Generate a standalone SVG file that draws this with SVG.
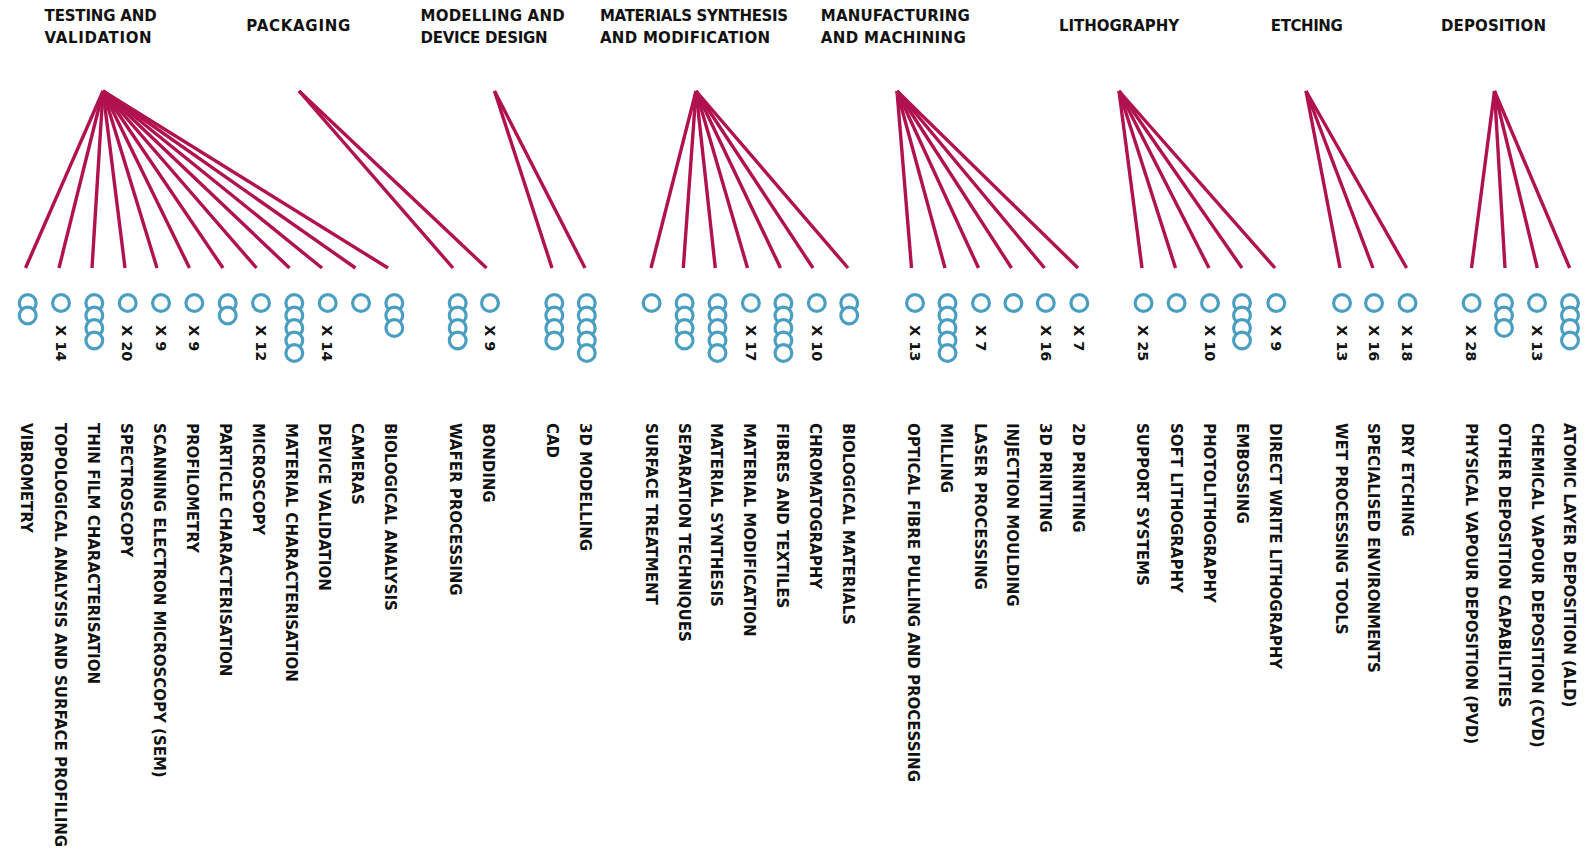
<svg xmlns="http://www.w3.org/2000/svg" width="1589" height="854" viewBox="0 0 1589 854">
<style>
.bg{fill:#ffffff}
.ttl{font-family:"DejaVu Sans","Liberation Sans",sans-serif;font-weight:bold;font-size:15px;fill:#111}
.lbl{font-family:"DejaVu Sans","Liberation Sans",sans-serif;font-weight:bold;font-size:15px;fill:#111}
.cnt{font-family:"DejaVu Sans","Liberation Sans",sans-serif;font-weight:bold;font-size:14.5px;fill:#111}
.c{fill:#ffffff;stroke:#4a9fc0;stroke-width:3.2}
.ln{stroke:#b0124f;stroke-width:3.4;fill:none}
</style>
<defs>
<circle id="r" class="c" cx="0" cy="0" r="8.4"/>
</defs>
<rect class="bg" x="0" y="0" width="1589" height="854"/>

<g id="titles">
<g id="t-testing"><text class="ttl" x="44.6" y="21" textLength="112" lengthAdjust="spacing">TESTING AND</text><text class="ttl" x="44.6" y="42.5" textLength="107" lengthAdjust="spacing">VALIDATION</text></g>
<g id="t-packaging"><text class="ttl" x="246.3" y="31" textLength="104" lengthAdjust="spacing">PACKAGING</text></g>
<g id="t-modelling"><text class="ttl" x="420.6" y="21" textLength="144" lengthAdjust="spacing">MODELLING AND</text><text class="ttl" x="420.6" y="42.5" textLength="127" lengthAdjust="spacing">DEVICE DESIGN</text></g>
<g id="t-materials"><text class="ttl" x="600" y="21" textLength="188" lengthAdjust="spacing">MATERIALS SYNTHESIS</text><text class="ttl" x="600" y="42.5" textLength="170" lengthAdjust="spacing">AND MODIFICATION</text></g>
<g id="t-manufacturing"><text class="ttl" x="820.8" y="21" textLength="149" lengthAdjust="spacing">MANUFACTURING</text><text class="ttl" x="820.8" y="42.5" textLength="145" lengthAdjust="spacing">AND MACHINING</text></g>
<g id="t-lithography"><text class="ttl" x="1059" y="31" textLength="120" lengthAdjust="spacing">LITHOGRAPHY</text></g>
<g id="t-etching"><text class="ttl" x="1270.8" y="31" textLength="72" lengthAdjust="spacing">ETCHING</text></g>
<g id="t-deposition"><text class="ttl" x="1441" y="31" textLength="105" lengthAdjust="spacing">DEPOSITION</text></g>
</g>

<g id="connectors">
<!-- Testing and validation -->
<line class="ln" x1="103" y1="91" x2="25.5" y2="268"/>
<line class="ln" x1="103" y1="91" x2="59" y2="268"/>
<line class="ln" x1="103" y1="91" x2="92" y2="268"/>
<line class="ln" x1="103" y1="91" x2="125" y2="268"/>
<line class="ln" x1="103" y1="91" x2="157" y2="268"/>
<line class="ln" x1="103" y1="91" x2="189.5" y2="268"/>
<line class="ln" x1="103" y1="91" x2="223" y2="268"/>
<line class="ln" x1="103" y1="91" x2="256.5" y2="268"/>
<line class="ln" x1="103" y1="91" x2="289.5" y2="268"/>
<line class="ln" x1="103" y1="91" x2="322" y2="268"/>
<line class="ln" x1="103" y1="91" x2="355.5" y2="268"/>
<line class="ln" x1="103" y1="91" x2="388" y2="268"/>
<!-- Packaging -->
<line class="ln" x1="299" y1="91" x2="453" y2="268"/>
<line class="ln" x1="299" y1="91" x2="486.5" y2="268"/>
<!-- Modelling -->
<line class="ln" x1="494.5" y1="91" x2="552" y2="268"/>
<line class="ln" x1="494.5" y1="91" x2="585" y2="268"/>
<!-- Materials -->
<line class="ln" x1="696" y1="91" x2="651" y2="268"/>
<line class="ln" x1="696" y1="91" x2="683.3" y2="268"/>
<line class="ln" x1="696" y1="91" x2="715.3" y2="268"/>
<line class="ln" x1="696" y1="91" x2="747.5" y2="268"/>
<line class="ln" x1="696" y1="91" x2="780.5" y2="268"/>
<line class="ln" x1="696" y1="91" x2="813" y2="268"/>
<line class="ln" x1="696" y1="91" x2="848" y2="268"/>
<!-- Manufacturing -->
<line class="ln" x1="897" y1="91" x2="911.5" y2="268"/>
<line class="ln" x1="897" y1="91" x2="945" y2="268"/>
<line class="ln" x1="897" y1="91" x2="978.5" y2="268"/>
<line class="ln" x1="897" y1="91" x2="1011.5" y2="268"/>
<line class="ln" x1="897" y1="91" x2="1044.5" y2="268"/>
<line class="ln" x1="897" y1="91" x2="1078" y2="268"/>
<!-- Lithography -->
<line class="ln" x1="1119" y1="91" x2="1142" y2="268"/>
<line class="ln" x1="1119" y1="91" x2="1175.5" y2="268"/>
<line class="ln" x1="1119" y1="91" x2="1209" y2="268"/>
<line class="ln" x1="1119" y1="91" x2="1242" y2="268"/>
<line class="ln" x1="1119" y1="91" x2="1275" y2="268"/>
<!-- Etching -->
<line class="ln" x1="1306" y1="91" x2="1340" y2="268"/>
<line class="ln" x1="1306" y1="91" x2="1373" y2="268"/>
<line class="ln" x1="1306" y1="91" x2="1406.6" y2="268"/>
<!-- Deposition -->
<line class="ln" x1="1494.5" y1="91" x2="1471.5" y2="268"/>
<line class="ln" x1="1494.5" y1="91" x2="1505" y2="268"/>
<line class="ln" x1="1494.5" y1="91" x2="1537.3" y2="268"/>
<line class="ln" x1="1494.5" y1="91" x2="1569.7" y2="268"/>
</g>

<g id="nodes">
<g id="n-vibrometry"><use href="#r" x="27.7" y="303"/><use href="#r" x="27.7" y="315.5"/><text class="lbl" transform="translate(26.5,423) rotate(90)" y="5.4">VIBROMETRY</text></g>
<g id="n-topological"><use href="#r" x="61" y="303"/><text class="cnt" transform="translate(61,325) rotate(90)" y="5.2">X 14</text><text class="lbl" transform="translate(60,423) rotate(90)" y="5.4">TOPOLOGICAL ANALYSIS AND SURFACE PROFILING</text></g>
<g id="n-thinfilm"><use href="#r" x="94.3" y="303"/><use href="#r" x="94.3" y="315.5"/><use href="#r" x="94.3" y="328"/><use href="#r" x="94.3" y="340.5"/><text class="lbl" transform="translate(93,423) rotate(90)" y="5.4">THIN FILM CHARACTERISATION</text></g>
<g id="n-spectroscopy"><use href="#r" x="127.7" y="303"/><text class="cnt" transform="translate(127.7,325) rotate(90)" y="5.2">X 20</text><text class="lbl" transform="translate(126,423) rotate(90)" y="5.4">SPECTROSCOPY</text></g>
<g id="n-sem"><use href="#r" x="161" y="303"/><text class="cnt" transform="translate(161,325) rotate(90)" y="5.2">X 9</text><text class="lbl" transform="translate(159,423) rotate(90)" y="5.4">SCANNING ELECTRON MICROSCOPY (SEM)</text></g>
<g id="n-profilometry"><use href="#r" x="194.3" y="303"/><text class="cnt" transform="translate(194.3,325) rotate(90)" y="5.2">X 9</text><text class="lbl" transform="translate(192,423) rotate(90)" y="5.4">PROFILOMETRY</text></g>
<g id="n-particle"><use href="#r" x="227.7" y="303"/><use href="#r" x="227.7" y="315.5"/><text class="lbl" transform="translate(225.5,423) rotate(90)" y="5.4">PARTICLE CHARACTERISATION</text></g>
<g id="n-microscopy"><use href="#r" x="261" y="303"/><text class="cnt" transform="translate(261,325) rotate(90)" y="5.2">X 12</text><text class="lbl" transform="translate(258.5,423) rotate(90)" y="5.4">MICROSCOPY</text></g>
<g id="n-materialchar"><use href="#r" x="294.3" y="303"/><use href="#r" x="294.3" y="315.5"/><use href="#r" x="294.3" y="328"/><use href="#r" x="294.3" y="340.5"/><use href="#r" x="294.3" y="353"/><text class="lbl" transform="translate(291.5,423) rotate(90)" y="5.4">MATERIAL CHARACTERISATION</text></g>
<g id="n-devicevalidation"><use href="#r" x="327.7" y="303"/><text class="cnt" transform="translate(327.7,325) rotate(90)" y="5.2">X 14</text><text class="lbl" transform="translate(324.5,423) rotate(90)" y="5.4">DEVICE VALIDATION</text></g>
<g id="n-cameras"><use href="#r" x="361" y="303"/><text class="lbl" transform="translate(357.5,423) rotate(90)" y="5.4">CAMERAS</text></g>
<g id="n-bioanalysis"><use href="#r" x="394.3" y="303"/><use href="#r" x="394.3" y="315.5"/><use href="#r" x="394.3" y="328"/><text class="lbl" transform="translate(390.5,423) rotate(90)" y="5.4">BIOLOGICAL ANALYSIS</text></g>

<g id="n-wafer"><use href="#r" x="457.7" y="303"/><use href="#r" x="457.7" y="315.5"/><use href="#r" x="457.7" y="328"/><use href="#r" x="457.7" y="340.5"/><text class="lbl" transform="translate(455.5,423) rotate(90)" y="5.4">WAFER PROCESSING</text></g>
<g id="n-bonding"><use href="#r" x="490" y="303"/><text class="cnt" transform="translate(490,325) rotate(90)" y="5.2">X 9</text><text class="lbl" transform="translate(488.5,423) rotate(90)" y="5.4">BONDING</text></g>

<g id="n-cad"><use href="#r" x="554.3" y="303"/><use href="#r" x="554.3" y="315.5"/><use href="#r" x="554.3" y="328"/><use href="#r" x="554.3" y="340.5"/><text class="lbl" transform="translate(552.5,423) rotate(90)" y="5.4">CAD</text></g>
<g id="n-3dmodelling"><use href="#r" x="586.8" y="303"/><use href="#r" x="586.8" y="315.5"/><use href="#r" x="586.8" y="328"/><use href="#r" x="586.8" y="340.5"/><use href="#r" x="586.8" y="353"/><text class="lbl" transform="translate(585.5,423) rotate(90)" y="5.4">3D MODELLING</text></g>

<g id="n-surface"><use href="#r" x="651.6" y="303"/><text class="lbl" transform="translate(651,423) rotate(90)" y="5.4">SURFACE TREATMENT</text></g>
<g id="n-separation"><use href="#r" x="684.6" y="303"/><use href="#r" x="684.6" y="315.5"/><use href="#r" x="684.6" y="328"/><use href="#r" x="684.6" y="340.5"/><text class="lbl" transform="translate(684,423) rotate(90)" y="5.4">SEPARATION TECHNIQUES</text></g>
<g id="n-matsynthesis"><use href="#r" x="717.5" y="303"/><use href="#r" x="717.5" y="315.5"/><use href="#r" x="717.5" y="328"/><use href="#r" x="717.5" y="340.5"/><use href="#r" x="717.5" y="353"/><text class="lbl" transform="translate(716.5,423) rotate(90)" y="5.4">MATERIAL SYNTHESIS</text></g>
<g id="n-matmodification"><use href="#r" x="750.9" y="303"/><text class="cnt" transform="translate(750.9,325) rotate(90)" y="5.2">X 17</text><text class="lbl" transform="translate(749.3,423) rotate(90)" y="5.4">MATERIAL MODIFICATION</text></g>
<g id="n-fibres"><use href="#r" x="783.4" y="303"/><use href="#r" x="783.4" y="315.5"/><use href="#r" x="783.4" y="328"/><use href="#r" x="783.4" y="340.5"/><use href="#r" x="783.4" y="353"/><text class="lbl" transform="translate(782.5,423) rotate(90)" y="5.4">FIBRES AND TEXTILES</text></g>
<g id="n-chromatography"><use href="#r" x="816.8" y="303"/><text class="cnt" transform="translate(816.8,325) rotate(90)" y="5.2">X 10</text><text class="lbl" transform="translate(815,423) rotate(90)" y="5.4">CHROMATOGRAPHY</text></g>
<g id="n-biomaterials"><use href="#r" x="849.2" y="303"/><use href="#r" x="849.2" y="315.5"/><text class="lbl" transform="translate(848.3,423) rotate(90)" y="5.4">BIOLOGICAL MATERIALS</text></g>

<g id="n-optical"><use href="#r" x="915" y="303"/><text class="cnt" transform="translate(915,325) rotate(90)" y="5.2">X 13</text><text class="lbl" transform="translate(913.5,423) rotate(90)" y="5.4">OPTICAL FIBRE PULLING AND PROCESSING</text></g>
<g id="n-milling"><use href="#r" x="947.5" y="303"/><use href="#r" x="947.5" y="315.5"/><use href="#r" x="947.5" y="328"/><use href="#r" x="947.5" y="340.5"/><use href="#r" x="947.5" y="353"/><text class="lbl" transform="translate(946.5,423) rotate(90)" y="5.4">MILLING</text></g>
<g id="n-laser"><use href="#r" x="981" y="303"/><text class="cnt" transform="translate(981,325) rotate(90)" y="5.2">X 7</text><text class="lbl" transform="translate(980,423) rotate(90)" y="5.4">LASER PROCESSING</text></g>
<g id="n-injection"><use href="#r" x="1013.4" y="303"/><text class="lbl" transform="translate(1012.5,423) rotate(90)" y="5.4">INJECTION MOULDING</text></g>
<g id="n-3dprinting"><use href="#r" x="1045.8" y="303"/><text class="cnt" transform="translate(1045.8,325) rotate(90)" y="5.2">X 16</text><text class="lbl" transform="translate(1045,423) rotate(90)" y="5.4">3D PRINTING</text></g>
<g id="n-2dprinting"><use href="#r" x="1079.3" y="303"/><text class="cnt" transform="translate(1079.3,325) rotate(90)" y="5.2">X 7</text><text class="lbl" transform="translate(1078.5,423) rotate(90)" y="5.4">2D PRINTING</text></g>

<g id="n-support"><use href="#r" x="1143.5" y="303"/><text class="cnt" transform="translate(1143.5,325) rotate(90)" y="5.2">X 25</text><text class="lbl" transform="translate(1142.5,423) rotate(90)" y="5.4">SUPPORT SYSTEMS</text></g>
<g id="n-softlitho"><use href="#r" x="1176.6" y="303"/><text class="lbl" transform="translate(1176,423) rotate(90)" y="5.4">SOFT LITHOGRAPHY</text></g>
<g id="n-photolitho"><use href="#r" x="1210" y="303"/><text class="cnt" transform="translate(1210,325) rotate(90)" y="5.2">X 10</text><text class="lbl" transform="translate(1209.5,423) rotate(90)" y="5.4">PHOTOLITHOGRAPHY</text></g>
<g id="n-embossing"><use href="#r" x="1242" y="303"/><use href="#r" x="1242" y="315.5"/><use href="#r" x="1242" y="328"/><use href="#r" x="1242" y="340.5"/><text class="lbl" transform="translate(1242,423) rotate(90)" y="5.4">EMBOSSING</text></g>
<g id="n-directwrite"><use href="#r" x="1276.3" y="303"/><text class="cnt" transform="translate(1276.3,325) rotate(90)" y="5.2">X 9</text><text class="lbl" transform="translate(1275.5,423) rotate(90)" y="5.4">DIRECT WRITE LITHOGRAPHY</text></g>

<g id="n-wet"><use href="#r" x="1342" y="303"/><text class="cnt" transform="translate(1342,325) rotate(90)" y="5.2">X 13</text><text class="lbl" transform="translate(1341,423) rotate(90)" y="5.4">WET PROCESSING TOOLS</text></g>
<g id="n-specialised"><use href="#r" x="1374" y="303"/><text class="cnt" transform="translate(1374,325) rotate(90)" y="5.2">X 16</text><text class="lbl" transform="translate(1373.5,423) rotate(90)" y="5.4">SPECIALISED ENVIRONMENTS</text></g>
<g id="n-dryetching"><use href="#r" x="1407.5" y="303"/><text class="cnt" transform="translate(1407.5,325) rotate(90)" y="5.2">X 18</text><text class="lbl" transform="translate(1407,423) rotate(90)" y="5.4">DRY ETCHING</text></g>

<g id="n-pvd"><use href="#r" x="1471.6" y="303"/><text class="cnt" transform="translate(1471.6,325) rotate(90)" y="5.2">X 28</text><text class="lbl" transform="translate(1471.5,423) rotate(90)" y="5.4">PHYSICAL VAPOUR DEPOSITION (PVD)</text></g>
<g id="n-otherdep"><use href="#r" x="1504" y="303"/><use href="#r" x="1504" y="315.5"/><use href="#r" x="1504" y="328"/><text class="lbl" transform="translate(1504.5,423) rotate(90)" y="5.4">OTHER DEPOSITION CAPABILITIES</text></g>
<g id="n-cvd"><use href="#r" x="1537" y="303"/><text class="cnt" transform="translate(1537,325) rotate(90)" y="5.2">X 13</text><text class="lbl" transform="translate(1537,423) rotate(90)" y="5.4">CHEMICAL VAPOUR DEPOSITION (CVD)</text></g>
<g id="n-ald"><use href="#r" x="1570" y="303"/><use href="#r" x="1570" y="315.5"/><use href="#r" x="1570" y="328"/><use href="#r" x="1570" y="340.5"/><text class="lbl" transform="translate(1569.8,423) rotate(90)" y="5.4">ATOMIC LAYER DEPOSITION (ALD)</text></g>
</g>
</svg>
